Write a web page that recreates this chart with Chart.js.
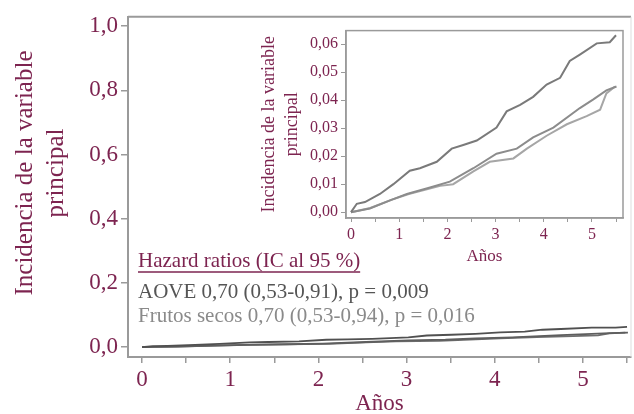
<!DOCTYPE html>
<html>
<head>
<meta charset="utf-8">
<script src="https://cdn.jsdelivr.net/npm/chart.js@4"></script>
<style>
  body { margin: 0; background: #fff; }
  #wrap { position: relative; width: 634px; height: 414px; }
  #main { position: absolute; left: 0; top: 0; }
  #inset { position: absolute; left: 255px; top: 18px; }
</style>
</head>
<body>
<div id="wrap">
  <canvas id="main" width="634" height="414"></canvas>
  <canvas id="inset" width="376" height="254"></canvas>
</div>
<script>
// curves (years, cumulative incidence)
const controlYears = [0, 0.12, 0.29, 0.6, 0.88, 1.22, 1.43, 1.78, 2.09, 2.33, 2.61, 3.02, 3.23, 3.51, 3.78, 4.06, 4.34, 4.54, 4.75, 5.1, 5.37, 5.5];
const controlRisk = [0, 0.003, 0.0036, 0.0065, 0.010, 0.0148, 0.0157, 0.018, 0.0227, 0.024, 0.0256, 0.0302, 0.036, 0.0383, 0.0412, 0.0456, 0.048, 0.054, 0.0563, 0.0603, 0.0607, 0.0632];
const aoveYears = [0, 0.39, 0.81, 1.16, 1.64, 2.05, 2.54, 3.02, 3.44, 3.78, 4.2, 4.75, 5.03, 5.3, 5.51];
const aoveRisk = [0, 0.0013, 0.0042, 0.0065, 0.0088, 0.0109, 0.0157, 0.0209, 0.0227, 0.0267, 0.0302, 0.0372, 0.0403, 0.0435, 0.0449];
const nutsYears = [0, 0.4, 0.85, 1.2, 1.85, 2.12, 2.54, 2.88, 3.37, 3.65, 4.06, 4.48, 4.89, 5.17, 5.3, 5.48];
const nutsRisk = [0, 0.0015, 0.0045, 0.0065, 0.0094, 0.010, 0.0146, 0.018, 0.0192, 0.0227, 0.0273, 0.0314, 0.0343, 0.0366, 0.0424, 0.0449];

const xTicks = [0, 0.5, 1, 1.5, 2, 2.5, 3, 3.5, 4, 4.5, 5, 5.5];
const mainYTicks = [0, 0.2, 0.4, 0.6, 0.8, 1.0];
const insetYTicks = [0, 0.01, 0.02, 0.03, 0.04, 0.05, 0.06];

const yTitle = ['Incidencia de la variable', 'principal'];
const xTitle = 'Años';
const hrTitle = 'Hazard ratios (IC al 95 %)';
const hrAove = 'AOVE 0,70 (0,53-0,91), p = 0,009';
const hrNuts = 'Frutos secos 0,70 (0,53-0,94), p = 0,016';

const maroon = '#7d2450';
const axisGray = '#9a9a9a';
const serif = "'Liberation Serif', 'DejaVu Serif', serif";

function pts(xs, ys) {
    return xs.map((x, i) => ({ x: x, y: ys[i] }));
}
function comma(v, d) {
    return v.toFixed(d).replace('.', ',');
}

function curves(colors, width) {
    return [
        { data: pts(controlYears, controlRisk), borderColor: colors[0] },
        { data: pts(aoveYears, aoveRisk), borderColor: colors[1] },
        { data: pts(nutsYears, nutsRisk), borderColor: colors[2] }
    ].map(d => Object.assign(d, { borderWidth: width, pointRadius: 0, tension: 0, fill: false }));
}

// text the axes can't draw: rotated y title, hazard ratio notes, top/right frame
const mainNotes = {
    id: 'mainNotes',
    afterDraw(chart) {
        const ctx = chart.ctx;
        const a = chart.chartArea;
        ctx.save();
        ctx.strokeStyle = axisGray;
        ctx.lineWidth = 2;
        ctx.beginPath();
        ctx.moveTo(a.left, a.top);
        ctx.lineTo(a.right, a.top);
        ctx.stroke();
        ctx.strokeStyle = '#dddddd';
        ctx.lineWidth = 1;
        ctx.beginPath();
        ctx.moveTo(a.right, a.top);
        ctx.lineTo(a.right, a.bottom);
        ctx.stroke();

        ctx.fillStyle = maroon;
        ctx.font = '25px ' + serif;
        ctx.textAlign = 'center';
        ctx.textBaseline = 'middle';
        [25, 56].forEach((x, i) => {
            ctx.save();
            ctx.translate(x, 173);
            ctx.rotate(-Math.PI / 2);
            ctx.fillText(yTitle[i], 0, 0);
            ctx.restore();
        });

        ctx.textAlign = 'left';
        ctx.textBaseline = 'alphabetic';
        ctx.font = '21px ' + serif;
        ctx.fillText(hrTitle, 138, 267);
        const w = ctx.measureText(hrTitle).width;
        ctx.strokeStyle = maroon;
        ctx.lineWidth = 1.5;
        ctx.beginPath();
        ctx.moveTo(138, 272);
        ctx.lineTo(138 + w, 272);
        ctx.stroke();
        ctx.fillStyle = '#555555';
        ctx.fillText(hrAove, 138, 298);
        ctx.fillStyle = '#8a8a8a';
        ctx.fillText(hrNuts, 138, 322);
        ctx.restore();
    }
};

const insetFrame = {
    id: 'insetFrame',
    afterDraw(chart) {
        const ctx = chart.ctx;
        const a = chart.chartArea;
        ctx.save();
        ctx.strokeStyle = axisGray;
        ctx.lineWidth = 1.5;
        ctx.strokeRect(a.left, a.top, a.right - a.left, a.bottom - a.top);
        ctx.restore();
    }
};

new Chart(document.getElementById('main').getContext('2d'), {
    type: 'line',
    data: { datasets: curves(['#505050', '#5e5e5e', '#6e6e6e'], 1.8) },
    options: {
        responsive: false,
        animation: false,
        layout: { padding: { top: 15, right: 3, left: 0, bottom: 0 } },
        plugins: { legend: { display: false }, tooltip: { enabled: false } },
        scales: {
            x: {
                type: 'linear',
                min: -0.159,
                max: 5.545,
                afterBuildTicks: s => { s.ticks = xTicks.map(v => ({ value: v })); },
                afterFit: s => { s.height = 57; },
                grid: { drawOnChartArea: false, drawTicks: true, tickLength: 6, color: axisGray, lineWidth: 1.5 },
                border: { display: true, color: axisGray, width: 2 },
                ticks: {
                    padding: 3,
                    color: maroon,
                    font: { family: serif, size: 23 },
                    maxRotation: 0,
                    autoSkip: false,
                    callback: v => (Number.isInteger(v) ? String(v) : '')
                },
                title: { display: true, text: xTitle, color: maroon, font: { family: serif, size: 23 }, padding: { top: 0, bottom: -4 } }
            },
            y: {
                type: 'linear',
                min: -0.031,
                max: 1.0294,
                afterBuildTicks: s => { s.ticks = mainYTicks.map(v => ({ value: v })); },
                afterFit: s => { s.width = 128; },
                grid: { drawOnChartArea: false, drawTicks: true, tickLength: 7, color: axisGray, lineWidth: 1.5 },
                border: { display: true, color: axisGray, width: 2 },
                ticks: {
                    padding: 3,
                    color: maroon,
                    font: { family: serif, size: 23 },
                    callback: v => comma(v, 1)
                }
            }
        }
    },
    plugins: [mainNotes]
});

new Chart(document.getElementById('inset').getContext('2d'), {
    type: 'line',
    data: { datasets: curves(['#7a7a7a', '#8c8c8c', '#a6a6a6'], 2) },
    options: {
        responsive: false,
        animation: false,
        layout: { padding: { top: 7, right: 8, left: 0, bottom: 0 } },
        plugins: { legend: { display: false }, tooltip: { enabled: false } },
        scales: {
            x: {
                type: 'linear',
                min: -0.104,
                max: 5.645,
                afterBuildTicks: s => { s.ticks = xTicks.map(v => ({ value: v })); },
                afterFit: s => { s.height = 54; },
                grid: { drawOnChartArea: false, drawTicks: true, tickLength: 4, color: axisGray, lineWidth: 1 },
                border: { display: true, color: axisGray, width: 1.5 },
                ticks: {
                    padding: 3,
                    color: maroon,
                    font: { family: serif, size: 16 },
                    maxRotation: 0,
                    autoSkip: false,
                    callback: v => (Number.isInteger(v) ? String(v) : '')
                },
                title: { display: true, text: xTitle, color: maroon, font: { family: serif, size: 17 }, padding: { top: 0, bottom: 5 } }
            },
            y: {
                type: 'linear',
                min: -0.00208,
                max: 0.06486,
                afterBuildTicks: s => { s.ticks = insetYTicks.map(v => ({ value: v })); },
                afterFit: s => { s.width = 91; },
                grid: { drawOnChartArea: false, drawTicks: true, tickLength: 5, color: axisGray, lineWidth: 1 },
                border: { display: true, color: axisGray, width: 1.5 },
                ticks: {
                    padding: 3,
                    color: maroon,
                    font: { family: serif, size: 16 },
                    callback: v => comma(v, 2)
                },
                title: { display: true, text: yTitle, color: maroon, font: { family: serif, size: 18, lineHeight: 1.28 }, padding: { top: 3, bottom: 0 } }
            }
        }
    },
    plugins: [insetFrame]
});
</script>
</body>
</html>
